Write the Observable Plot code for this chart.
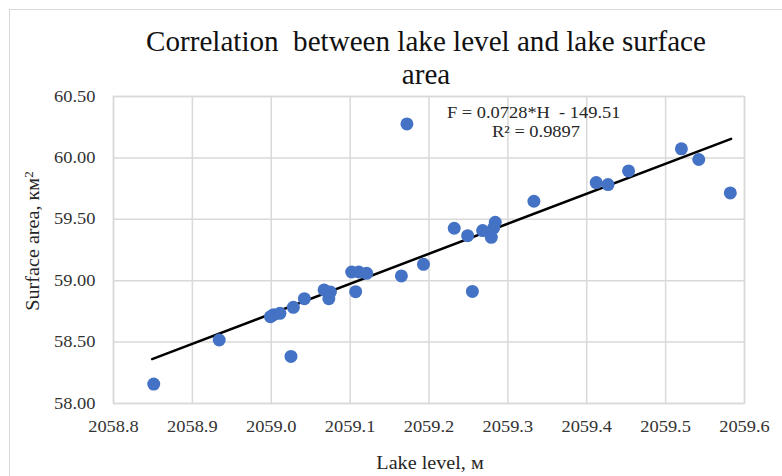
<!DOCTYPE html>
<html><head><meta charset="utf-8">
<script src="https://cdn.jsdelivr.net/npm/d3@7"></script>
<script src="https://cdn.jsdelivr.net/npm/@observablehq/plot@0.6"></script>
<style>
body{margin:0;background:#fff;}
#wrap{position:relative;width:782px;height:476px;overflow:hidden;font-family:"Liberation Serif","Times New Roman",serif;color:#262626;}
#frame{position:absolute;left:9px;top:9px;width:820px;height:520px;border:1.5px solid #d9d9d9;}
#chart{position:absolute;left:0;top:0;}
.t{position:absolute;white-space:nowrap;line-height:1;font-family:"Liberation Serif","Times New Roman",serif;}
#title{left:426px;top:24px;font-size:30px;line-height:33px;text-align:center;transform:translateX(-50%) scaleX(0.97);color:#111;}
#ylab{left:33px;top:241px;font-size:18px;transform:translate(-50%,-50%) rotate(-90deg) scaleX(1.12);}
#xlab{left:430px;top:454px;font-size:18px;transform:translateX(-50%) scaleX(1.12);}
#eq1{left:447px;top:105px;font-size:16px;transform-origin:0 0;transform:scaleX(1.15);}
#eq2{left:492px;top:124px;font-size:16px;transform-origin:0 0;transform:scaleX(1.15);}
sup{font-size:0.65em;vertical-align:0.55em;line-height:0;}
</style></head>
<body>
<div id="wrap">
<div id="frame"></div>
<div id="chart"></div>
<div class="t" id="title">Correlation&nbsp; between lake level and lake surface<br>area</div>
<div class="t" id="ylab">Surface area, км<sup>2</sup></div>
<div class="t" id="xlab">Lake level, м</div>
<div class="t" id="eq1">F = 0.0728*H &nbsp;- 149.51</div>
<div class="t" id="eq2">R² = 0.9897</div>
</div>
<script>
// Observed data: lake level (m) and surface area (km²)
const level = [2058.851, 2058.934, 2058.999, 2059.003, 2059.011, 2059.028, 2059.025, 2059.042,
  2059.067, 2059.075, 2059.073, 2059.102, 2059.111, 2059.121, 2059.107, 2059.165, 2059.193,
  2059.172, 2059.232, 2059.249, 2059.255, 2059.268, 2059.279, 2059.284, 2059.282, 2059.333,
  2059.412, 2059.427, 2059.453, 2059.520, 2059.542, 2059.582];
const area = [58.158, 58.517, 58.707, 58.723, 58.734, 58.783, 58.383, 58.854,
  58.925, 58.908, 58.854, 59.071, 59.071, 59.060, 58.911, 59.039, 59.133,
  60.277, 59.427, 59.367, 58.913, 59.408, 59.353, 59.476, 59.430, 59.647,
  59.799, 59.783, 59.894, 60.074, 59.987, 59.715];
// Linear trend line end points
const trendLevel = [2058.849, 2059.583];
const trendArea = [58.362, 60.155];
// Tick values
const xTicks = [2058.8, 2058.9, 2059.0, 2059.1, 2059.2, 2059.3, 2059.4, 2059.5, 2059.6];
const yTicks = [58.0, 58.5, 59.0, 59.5, 60.0, 60.5];

const points = level.map((h, i) => ({h, f: area[i]}));
const trend = trendLevel.map((h, i) => ({h, f: trendArea[i]}));
const grid = {stroke: "#d9d9d9", strokeOpacity: 1, strokeWidth: 1.5};

const chart = Plot.plot({
  width: 782, height: 476,
  marginLeft: 113, marginRight: 38, marginTop: 96, marginBottom: 73,
  x: {domain: [2058.8, 2059.6], label: null},
  y: {domain: [58, 60.5], label: null},
  style: {fontFamily: '"Liberation Serif","Times New Roman",serif', fontSize: "16px", color: "#333", background: "transparent", overflow: "visible"},
  marks: [
    Plot.gridX(xTicks, grid),
    Plot.gridY(yTicks, grid),
    Plot.frame({stroke: "#d9d9d9", strokeWidth: 1.5}),
    Plot.axisX(xTicks, {tickSize: 0, tickPadding: 17, tickFormat: d => d.toFixed(1), label: null, fontSize: 16}),
    Plot.axisY(yTicks, {tickSize: 0, tickPadding: 18, tickFormat: d => d.toFixed(2), label: null, fontSize: 16}),
    Plot.line(trend, {x: "h", y: "f", stroke: "#000", strokeWidth: 2.5}),
    Plot.dot(points, {x: "h", y: "f", r: 6.5, fill: "#4472C4", stroke: "none"})
  ]
});
chart.querySelectorAll('[aria-label^="x-axis tick label"] text, [aria-label^="y-axis tick label"] text').forEach(t => {
  const T = t.getAttribute("transform") || "";
  const ax = parseFloat(t.getAttribute("x") || "0");
  t.setAttribute("transform", `${T} translate(${ax},0) scale(1.15,1) translate(${-ax},0)`);
});
document.getElementById("chart").appendChild(chart);
</script>
</body></html>
